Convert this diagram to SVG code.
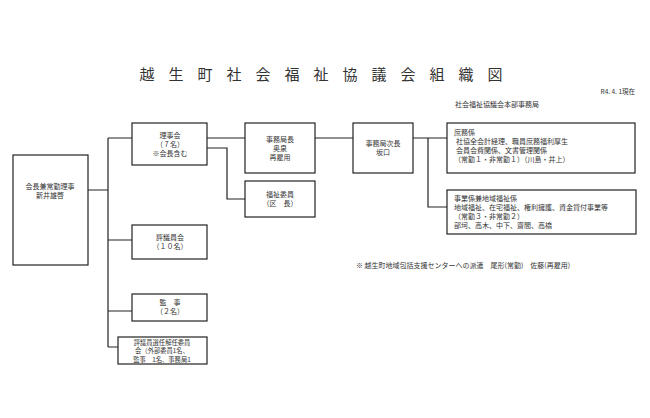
<svg xmlns="http://www.w3.org/2000/svg" width="650" height="418" viewBox="0 0 650 418">
<style>
rect{fill:#fff;stroke:#222;stroke-width:1.2}
text{font-family:"Noto Sans CJK JP","Liberation Serif",sans-serif;font-size:7px;fill:#333}
.c{text-anchor:middle}
.s{font-size:6.3px}
#conn path{fill:none;stroke:#222;stroke-width:1.2}
</style>
<rect x="0" y="0" width="650" height="418" style="fill:#fff;stroke:none"/>
<text x="328" y="80" class="c" style="font-size:15px;letter-spacing:14px;font-family:'Noto Sans CJK JP',serif">越生町社会福祉協議会組織図</text>
<text x="635" y="94" style="text-anchor:end;font-size:6.5px">R4. 4. 1現在</text>
<text x="497" y="107" class="c">社会福祉協議会本部事務局</text>
<g id="conn">
<path d="M88 190H108M108 138V347M108 138H132M108 240H132M108 311H132M108 347H118"/>
<path d="M207 138H245M207 148H227V199H245M315 138H353M413 138H447M428 138V207H447"/>
</g>
<g id="root"><rect x="13" y="155" width="75" height="110"/><text x="50" y="189" class="c">会長兼常勤理事</text><text x="50" y="198" class="c">新井雄啓</text></g>
<g id="rijikai"><rect x="132" y="123" width="75" height="42"/><text x="170" y="138" class="c">理事会</text><text x="170" y="147" class="c">（７名）</text><text x="170" y="156" class="c">※会長含む</text></g>
<g id="jimukyokucho"><rect x="245" y="123" width="70" height="50"/><text x="280" y="142" class="c">事務局長</text><text x="280" y="151" class="c">奥泉</text><text x="280" y="160" class="c">再雇用</text></g>
<g id="fukushi"><rect x="245" y="181" width="70" height="36"/><text x="280" y="197" class="c">福祉委員</text><text x="280" y="206" class="c">（区　長）</text></g>
<g id="jicho"><rect x="353" y="123" width="60" height="50"/><text x="383" y="146" class="c">事務局次長</text><text x="383" y="155" class="c">坂口</text></g>
<g id="shomu"><rect x="447" y="123" width="188" height="50"/><text x="454" y="135">庶務係</text><text x="456" y="144">社協全会計経理、職員庶務福利厚生</text><text x="456" y="153">会員会費関係、文書管理関係</text><text x="454" y="162">（常勤１・非常勤１）（川島・井上）</text></g>
<g id="jigyo"><rect x="447" y="190" width="189" height="44"/><text x="454" y="201">事業係兼地域福祉係</text><text x="454" y="210">地域福祉、在宅福祉、権利擁護、資金貸付事業等</text><text x="454" y="219">（常勤３・非常勤２）</text><text x="454" y="228">部坷、高木、中下、齋間、高橋</text></g>
<g id="hyogi"><rect x="132" y="225" width="75" height="34"/><text x="170" y="240" class="c">評議員会</text><text x="170" y="249" class="c">（１０名）</text></g>
<g id="kanji"><rect x="132" y="294" width="75" height="27"/><text x="170" y="305" class="c">監　事</text><text x="170" y="314" class="c">（２名）</text></g>
<g id="senin"><rect x="118" y="337" width="89" height="27"/><text x="162" y="344.5" class="c s">評議員選任解任委員</text><text x="162" y="353" class="c s">会（外部委員1名、</text><text x="162" y="361.5" class="c s">監事　1名、事務局1</text></g>
<text x="356" y="268">※ 越生町地域包括支援センターへの派遣　尾形(常勤)　佐藤(再雇用)</text>
</svg>
